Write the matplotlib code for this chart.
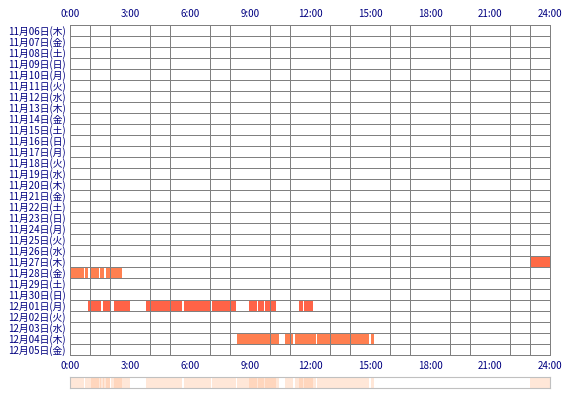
import matplotlib
matplotlib.use("Agg")
import matplotlib.pyplot as plt
import numpy as np

plt.rcParams['font.family'] = ['Noto Sans CJK JP', 'DejaVu Sans']

days = ["11月06日(木)", "11月07日(金)", "11月08日(土)", "11月09日(日)", "11月10日(月)",
        "11月11日(火)", "11月12日(水)", "11月13日(木)", "11月14日(金)", "11月15日(土)",
        "11月16日(日)", "11月17日(月)", "11月18日(火)", "11月19日(水)", "11月20日(木)",
        "11月21日(金)", "11月22日(土)", "11月23日(日)", "11月24日(月)", "11月25日(火)",
        "11月26日(水)", "11月27日(木)", "11月28日(金)", "11月29日(土)", "11月30日(日)",
        "12月01日(月)", "12月02日(火)", "12月03日(水)", "12月04日(木)", "12月05日(金)"]

# (start hour, end hour) per day
seg_1127 = [(23.0, 24.0)]
seg_1128 = [(0.0, 0.7), (0.77, 0.92), (1.05, 1.45), (1.5, 1.72), (1.78, 2.0), (2.05, 2.58)]
seg_1201 = [(0.9, 1.55), (1.65, 2.0), (2.2, 3.0), (3.78, 3.83), (3.85, 5.6), (5.7, 7.03),
            (7.1, 8.3), (8.97, 9.33), (9.38, 9.7), (9.77, 10.3), (11.45, 11.63), (11.7, 12.13)]
seg_1204 = [(8.35, 10.45), (10.75, 11.13), (11.25, 12.28), (12.35, 14.95), (15.03, 15.2)]

segments = [(21, seg_1127, "#ff6a45"), (22, seg_1128, "#ff8050"),
            (25, seg_1201, "#ff6347"), (28, seg_1204, "#ff7f50")]

xticks = [0, 3, 6, 9, 12, 15, 18, 21, 24]
xlabels = ["0:00", "3:00", "6:00", "9:00", "12:00", "15:00", "18:00", "21:00", "24:00"]

fig = plt.figure(figsize=(5.7, 4.0), dpi=100)
ax = fig.add_axes([70/570, 45/400, 480/570, 330/400])
n = len(days)
for row, segs, col in segments:
    for s, e in segs:
        ax.barh(row, e - s, left=s, height=1.0, color=col, edgecolor="none", zorder=1)
ax.set_xlim(0, 24)
ax.set_ylim(n - 0.5, -0.5)
ax.set_xticks(range(25), minor=True)
ax.set_xticks(xticks)
ax.set_xticklabels(xlabels, fontsize=7, color="#000080")
ax.set_yticks(range(n))
ax.set_yticklabels(days, fontsize=7, color="#000080")
ax.set_yticks(np.arange(-0.5, n, 1), minor=True)
ax.tick_params(which="both", length=0, pad=3)
ax.tick_params(axis="x", labeltop=True, labelbottom=True, top=False, pad=4)
ax.grid(True, which="minor", color="#808080", lw=0.72, zorder=2)
ax.grid(False, which="major")
ax.set_axisbelow(False)
for sp in ax.spines.values():
    sp.set_color("#808080")
    sp.set_linewidth(0.72)

# summary strip
ax2 = fig.add_axes([70/570, 12/400, 480/570, 11/400])
for row, segs, col in segments:
    for s, e in segs:
        ax2.axvspan(s, e, color="#ffb080", alpha=0.3, lw=0)
ax2.set_xlim(0, 24)
ax2.set_xticks([]); ax2.set_yticks([])
for sp in ax2.spines.values():
    sp.set_color("#c0c0c0")

fig.savefig("out.png", dpi=100)
